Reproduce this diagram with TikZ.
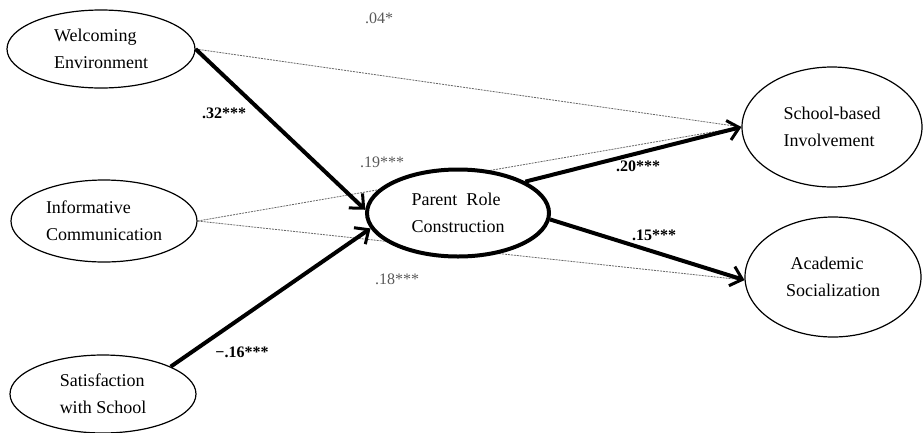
\documentclass[tikz,border=0pt]{standalone}
\usepackage{fontspec}
\setmainfont{Liberation Serif}
\usetikzlibrary{shapes.geometric,arrows.meta,backgrounds}
\tikzset{
  lat/.style={ellipse,draw,line width=1.2pt,inner sep=0pt,align=left,
    font=\fontsize{18}{27}\selectfont,fill=white},
  latthick/.style={lat,line width=4pt},
  strong/.style={line width=4pt,-{Straight Barb[length=11pt,width=20pt,line width=3pt]}},
  weak/.style={draw=black!60,line width=0.8pt,dash pattern=on 2pt off 1pt},
  lblb/.style={font=\fontsize{16}{18}\selectfont\bfseries},
  lblg/.style={font=\fontsize{16}{18}\selectfont,text=black!65},
}
\begin{document}
\begin{tikzpicture}[x=1pt,y=-1pt]
\useasboundingbox (0,0) rectangle (924,432);
\node[lat,minimum width=188pt,minimum height=78pt] (we) at (101,49) {Welcoming\\Environment};
\node[lat,minimum width=186pt,minimum height=82pt] (ic) at (104,221) {Informative\\Communication};
\node[lat,minimum width=186pt,minimum height=78pt] (sa) at (103,394) {Satisfaction\\with School};
\node[latthick,minimum width=182pt,minimum height=87pt] (pr) at (458,213) {Parent\ \ Role\\Construction};
\node[lat,minimum width=180pt,minimum height=120pt] (sb) at (832,127) {School-based\\Involvement};
\node[lat,minimum width=176pt,minimum height=120pt] (ac) at (833,277) {\ Academic\\Socialization};
\begin{pgfonlayer}{background}
\draw[weak] (we.east) -- (sb.west);
\draw[weak] (ic.east) -- (sb.west);
\draw[weak] (ic.east) -- (ac.182);
\end{pgfonlayer}
\draw[strong] (we.east) -- (pr.178);
\draw[strong] (sa.22) -- (pr.190);
\draw[strong] (pr.25) -- (sb.west);
\draw[strong] (pr.-4) -- (ac.182);
\node[lblg] (l04) at (379,18) {.04*};
\node[lblb] (l32) at (224,113) {.32***};
\node[lblg] (l19) at (382,162) {.19***};
\node[lblb] (l20) at (638,166) {.20***};
\node[lblb] (l15) at (654,235) {.15***};
\node[lblg] (l18) at (397,279) {.18***};
\node[lblb] (l16) at (242,352) {−.16***};
\end{tikzpicture}
\end{document}
